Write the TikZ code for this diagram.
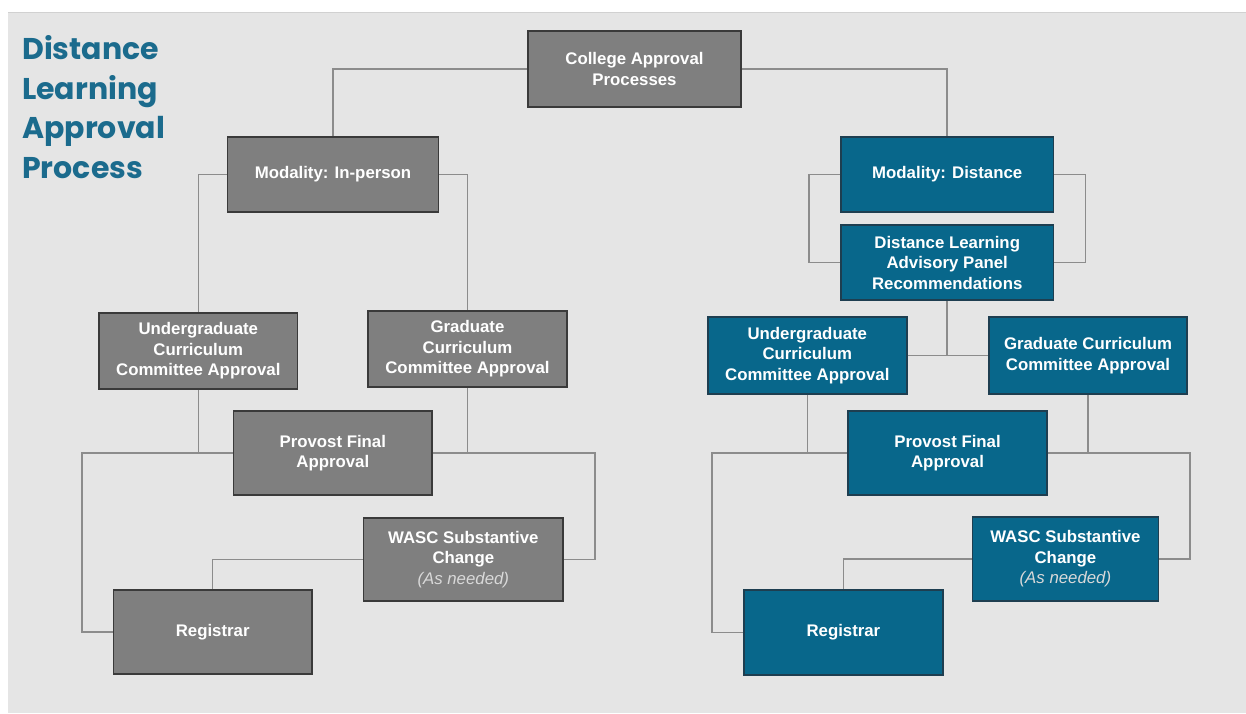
\documentclass[tikz,border=0pt]{standalone}
\usepackage{fontspec}
\setmainfont{Liberation Sans}
\newfontfamily\titlefont{Poppins}
\usetikzlibrary{positioning}

\definecolor{bggray}{HTML}{E5E5E5}
\definecolor{boxgray}{HTML}{7F7F7F}
\definecolor{edgegray}{HTML}{3A3A3A}
\definecolor{boxblue}{HTML}{08678B}
\definecolor{edgeblue}{HTML}{1E3E50}
\definecolor{titleblue}{HTML}{1B6B8D}
\definecolor{linegray}{HTML}{8C8C8C}

\begin{document}
\begin{tikzpicture}[x=1pt, y=-1pt,
        % Standard style for all process boxes
        box/.style={draw, line width=1.6pt, inner sep=0pt, align=center,
        text=white, font=\bfseries\fontsize{16.8}{20.5}\selectfont},
        % Grey boxes for the in-person branch, blue boxes for the distance branch
        greybox/.style={box, fill=boxgray, draw=edgegray},
        bluebox/.style={box, fill=boxblue, draw=edgeblue},
        % Connector lines
        link/.style={draw=linegray, line width=1.5pt},
        % Title text
        titletext/.style={font=\titlefont\bfseries\fontsize{30}{39.8}\selectfont,
        text=titleblue, align=left, inner sep=0pt}
    ]

    % --- Background ---
    \useasboundingbox (0,0) rectangle (1246,713);
    \fill[white] (0,0) rectangle (1246,713);
    \fill[bggray] (8,12) rectangle (1246,713);
    \draw[black!18, line width=1pt] (8,12.5) -- (1246,12.5);

    % --- Title ---
    \node[titletext, anchor=north west] (title) at (22,35) {Distance\\Learning\\Approval\\Process};

    % --- Top box ---
    \node[greybox, minimum width=213pt, minimum height=76pt] (college) at (634.5,69) {College Approval\\Processes};

    % --- In-person branch ---
    \node[greybox, minimum width=211pt, minimum height=75pt] (ip) at (333,174.5) {Modality: In-person};
    \node[greybox, minimum width=198.5pt, minimum height=76pt] (ip_ugrad) at (198.3,351) {Undergraduate\\Curriculum\\Committee Approval};
    \node[greybox, minimum width=199pt, minimum height=76pt] (ip_grad) at (467.5,349) {Graduate\\Curriculum\\Committee Approval};
    \node[greybox, minimum width=198.4pt, minimum height=84pt] (ip_provost) at (332.8,453) {Provost Final\\Approval};
    \node[greybox, minimum width=199.4pt, minimum height=83pt] (ip_wasc) at (463.3,559.5) {WASC Substantive\\Change\\{\mdseries\itshape\color{white!85!black}(As needed)}};
    \node[greybox, minimum width=198.2pt, minimum height=84pt] (ip_reg) at (212.7,632) {Registrar};

    % --- Distance branch ---
    \node[bluebox, minimum width=212.4pt, minimum height=75pt] (dist) at (947.2,174.5) {Modality: Distance};
    \node[bluebox, minimum width=212.4pt, minimum height=75pt] (dist_panel) at (947.2,262.5) {Distance Learning\\Advisory Panel\\Recommendations};
    \node[bluebox, minimum width=199pt, minimum height=77pt] (dist_ugrad) at (807.3,355.5) {Undergraduate\\Curriculum\\Committee Approval};
    \node[bluebox, minimum width=197.8pt, minimum height=77pt] (dist_grad) at (1088,355.5) {Graduate Curriculum\\Committee Approval};
    \node[bluebox, minimum width=199pt, minimum height=84pt] (dist_provost) at (947.5,453) {Provost Final\\Approval};
    \node[bluebox, minimum width=186pt, minimum height=84pt] (dist_wasc) at (1065.4,559) {WASC Substantive\\Change\\{\mdseries\itshape\color{white!85!black}(As needed)}};
    \node[bluebox, minimum width=198.8pt, minimum height=85pt] (dist_reg) at (843.4,632.5) {Registrar};

    % --- Bend points of the side loops ---
    \coordinate (ip_lbend) at (82,453);
    \coordinate (ip_rbend) at (595,453);
    \coordinate (dist_lbend) at (712,453);
    \coordinate (dist_rbend) at (1190,453);
    \coordinate (panel_lbend) at (809,174.5);
    \coordinate (panel_rbend) at (1085.5,174.5);

    % --- Connectors: in-person branch ---
    \draw[link] (college.west) -| (ip.north);
    \draw[link] (ip.west) -| (ip_ugrad.north);
    \draw[link] (ip.east) -| (ip_grad.north);
    \draw[link] (ip_ugrad.south) |- (ip_provost.west);
    \draw[link] (ip_grad.south) |- (ip_provost.east);
    \draw[link] (ip_provost.west) -- (ip_lbend) |- (ip_reg.west);
    \draw[link] (ip_provost.east) -- (ip_rbend) |- (ip_wasc.east);
    \draw[link] (ip_wasc.west) -| (ip_reg.north);

    % --- Connectors: distance branch ---
    \draw[link] (college.east) -| (dist.north);
    \draw[link] (dist.west) -- (panel_lbend) |- (dist_panel.west);
    \draw[link] (dist.east) -- (panel_rbend) |- (dist_panel.east);
    \draw[link] (dist_panel.south) -- (dist_panel.south |- dist_ugrad.east);
    \draw[link] (dist_ugrad.east) -- (dist_grad.west);
    \draw[link] (dist_ugrad.south) |- (dist_provost.west);
    \draw[link] (dist_grad.south) |- (dist_provost.east);
    \draw[link] (dist_provost.west) -- (dist_lbend) |- (dist_reg.west);
    \draw[link] (dist_provost.east) -- (dist_rbend) |- (dist_wasc.east);
    \draw[link] (dist_wasc.west) -| (dist_reg.north);

\end{tikzpicture}
\end{document}
